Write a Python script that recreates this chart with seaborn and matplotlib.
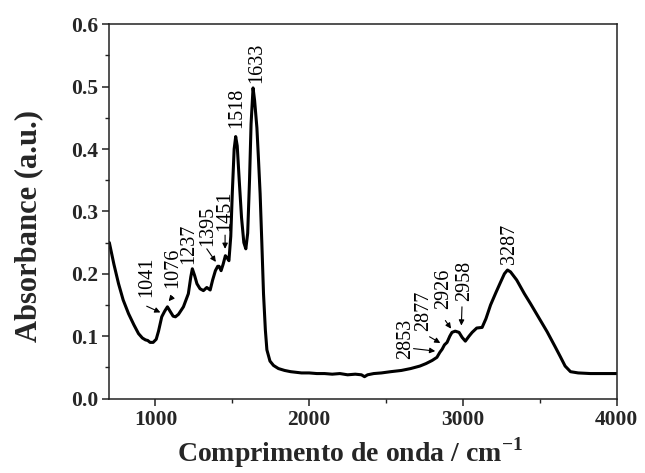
import matplotlib
matplotlib.use("Agg")
import matplotlib.pyplot as plt
import seaborn as sns
import pandas as pd

wavenumber = [700, 730, 760, 790, 825, 860, 890, 915, 935, 950, 965, 985, 1005, 1020,
              1041, 1060, 1078, 1095, 1115, 1130, 1150, 1182, 1214, 1230, 1240, 1255,
              1270, 1290, 1312, 1334, 1356, 1372, 1390, 1405, 1414, 1427, 1440, 1455,
              1465, 1478, 1490, 1500, 1512, 1522, 1532, 1545, 1560, 1575, 1588, 1600,
              1612, 1622, 1635, 1645, 1660, 1670, 1681, 1692, 1703, 1715, 1725, 1745,
              1768, 1800, 1840, 1880, 1950, 2000, 2050, 2100, 2150, 2200, 2250, 2300,
              2340, 2360, 2380, 2420, 2470, 2530, 2600, 2660, 2720, 2760, 2800, 2831,
              2850, 2865, 2880, 2897, 2915, 2929, 2950, 2975, 2995, 3016, 3040, 3060,
              3090, 3125, 3150, 3180, 3215, 3244, 3270, 3290, 3310, 3350, 3400, 3440,
              3500, 3548, 3600, 3634, 3665, 3700, 3750, 3830, 3900, 4000]
absorbance = [0.250, 0.215, 0.184, 0.158, 0.136, 0.118, 0.104, 0.097, 0.094, 0.093, 0.090,
              0.090, 0.095, 0.108, 0.131, 0.140, 0.147, 0.140, 0.132, 0.131, 0.135, 0.147,
              0.168, 0.195, 0.208, 0.197, 0.184, 0.176, 0.173, 0.178, 0.174, 0.190, 0.205,
              0.212, 0.212, 0.205, 0.215, 0.229, 0.226, 0.221, 0.260, 0.330, 0.400, 0.420,
              0.405, 0.350, 0.290, 0.250, 0.240, 0.265, 0.350, 0.440, 0.498, 0.478, 0.434,
              0.385, 0.328, 0.250, 0.168, 0.110, 0.078, 0.060, 0.053, 0.048, 0.045, 0.043,
              0.041, 0.041, 0.040, 0.040, 0.039, 0.040, 0.038, 0.039, 0.038, 0.035, 0.038,
              0.040, 0.041, 0.043, 0.045, 0.048, 0.052, 0.056, 0.061, 0.066, 0.074, 0.079,
              0.086, 0.090, 0.100, 0.106, 0.108, 0.106, 0.098, 0.092, 0.100, 0.106, 0.113,
              0.114, 0.128, 0.150, 0.170, 0.186, 0.200, 0.206, 0.203, 0.190, 0.168, 0.152,
              0.127, 0.107, 0.083, 0.067, 0.052, 0.043, 0.041, 0.040, 0.040, 0.040]

# peak labels: text, text x (center), text bottom y
peak_labels = ["1041", "1076", "1237", "1395", "1451", "1518", "1633",
               "2853", "2877", "2926", "2958", "3287"]
label_x = [943, 1113, 1219, 1343, 1448, 1529, 1660, 2625, 2745, 2875, 3009, 3304]
label_y = [0.162, 0.177, 0.216, 0.245, 0.269, 0.434, 0.506, 0.064, 0.109, 0.144, 0.157, 0.216]
# arrows (tail -> head), None where no arrow
arrow_tail = [(943, 0.148), (1110, 0.163), None, (1334, 0.240), (1453, 0.262), None, None,
              (2679, 0.080), (2783, 0.099), (2886, 0.125), (2994, 0.147), None]
arrow_head = [(1032, 0.138), (1086, 0.156), None, (1393, 0.219), (1453, 0.240), None, None,
              (2820, 0.076), (2853, 0.089), (2923, 0.112), (2990, 0.117), None]

x_ticks = [1000, 2000, 3000, 4000]
y_ticks = [0.0, 0.1, 0.2, 0.3, 0.4, 0.5, 0.6]

sns.set_theme(style="ticks")
plt.rcParams['font.family'] = ['Liberation Serif', 'DejaVu Serif']
plt.rcParams['mathtext.fontset'] = 'custom'
plt.rcParams['mathtext.rm'] = 'Liberation Serif'
plt.rcParams['mathtext.bf'] = 'Liberation Serif:bold'

fig = plt.figure(figsize=(6.45, 4.73), dpi=100)
ax = fig.add_axes([0.1695, 0.1575, 0.956 - 0.1695, 0.9486 - 0.1575])

df = pd.DataFrame({"x": wavenumber, "y": absorbance})
sns.lineplot(data=df, x="x", y="y", ax=ax, color="black", linewidth=2.2,
             estimator=None, sort=False)

for i, lab in enumerate(peak_labels):
    ax.text(label_x[i], label_y[i], lab, rotation=90, ha="center", va="bottom",
            fontsize=14.5, color="black")
    if arrow_tail[i] is not None:
        ax.annotate("", xy=arrow_head[i], xytext=arrow_tail[i],
                    arrowprops=dict(arrowstyle="-|>", color="black", lw=0.8,
                                    mutation_scale=8, shrinkA=0, shrinkB=0))

ax.set_xlim(700, 4000)
ax.set_ylim(0, 0.6)
ax.set_xticks(x_ticks)
ax.set_xticks([1500, 2500, 3500], minor=True)
ax.set_yticks(y_ticks)
ax.set_yticks([0.05, 0.15, 0.25, 0.35, 0.45, 0.55], minor=True)
ax.set_yticklabels([f"{v:.1f}" for v in y_ticks])
ax.set_xticklabels([str(v) for v in x_ticks])

for s in ax.spines.values():
    s.set_visible(True)
    s.set_linewidth(1.1)
    s.set_color("#222222")

ax.tick_params(axis="both", which="major", direction="out", length=5, width=1.1,
               labelsize=15.5, color="#222222", pad=3)
ax.tick_params(axis="both", which="minor", direction="out", length=3, width=1.0,
               color="#222222")
ax.tick_params(top=False, right=False, which="both")
for t in ax.get_xticklabels() + ax.get_yticklabels():
    t.set_fontweight("bold")

ax.set_xlabel(r"Comprimento de onda / cm$^{\mathbf{-1}}$", fontsize=20, fontweight="bold")
ax.set_ylabel("Absorbance (a.u.)", fontsize=22, fontweight="bold")
ax.yaxis.set_label_coords(-0.131, 0.46)
ax.xaxis.set_label_coords(0.474, -0.098)

fig.savefig("out.png", dpi=100)
